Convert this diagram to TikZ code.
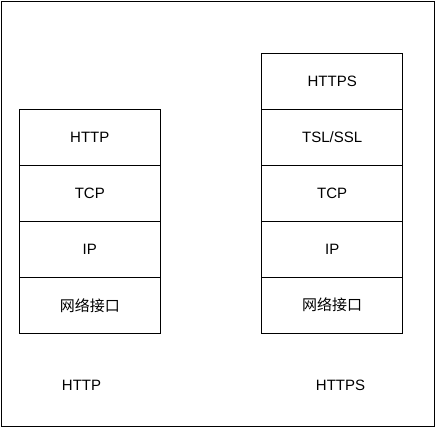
\documentclass[tikz,border=0pt]{standalone}
\usepackage{fontspec}
\setmainfont{Liberation Sans}
\newfontfamily\cjk{Noto Sans CJK SC}
\usetikzlibrary{positioning}

\tikzset{
    layer/.style={draw, line width=1pt, minimum width=141pt, minimum height=56pt,
        inner sep=0pt, outer sep=0pt, font=\fontsize{15}{18}\selectfont},
    caption/.style={inner sep=0pt, font=\fontsize{15}{18}\selectfont}
}

\begin{document}
\begin{tikzpicture}[x=1pt, y=-1pt]
        \useasboundingbox (0,0) rectangle (435,428);
        % Coordinates
        \coordinate (A) at (89.8, 137.3);
        \coordinate (B) at (332.2, 81.0);
        \coordinate (C) at (81.5, 385.5);
        \coordinate (D) at (340.5, 385.5);

        % Drawing
        \draw[line width=1pt] (1.3,1.3) rectangle (434,426.5);

        % HTTP stack
        \node[layer] (http) at (A) {HTTP};
        \node[layer, below=0pt of http] (tcp) {TCP};
        \node[layer, below=0pt of tcp] (ip) {IP};
        \node[layer, below=0pt of ip] (net) {\cjk 网络接口};
        \node[caption] (httplabel) at (C) {HTTP};

        % HTTPS stack
        \node[layer] (https) at (B) {HTTPS};
        \node[layer, below=0pt of https] (ssl) {TSL/SSL};
        \node[layer, below=0pt of ssl] (stcp) {TCP};
        \node[layer, below=0pt of stcp] (sip) {IP};
        \node[layer, below=0pt of sip] (snet) {\cjk 网络接口};
        \node[caption] (httpslabel) at (D) {HTTPS};
    \end{tikzpicture}
\end{document}
